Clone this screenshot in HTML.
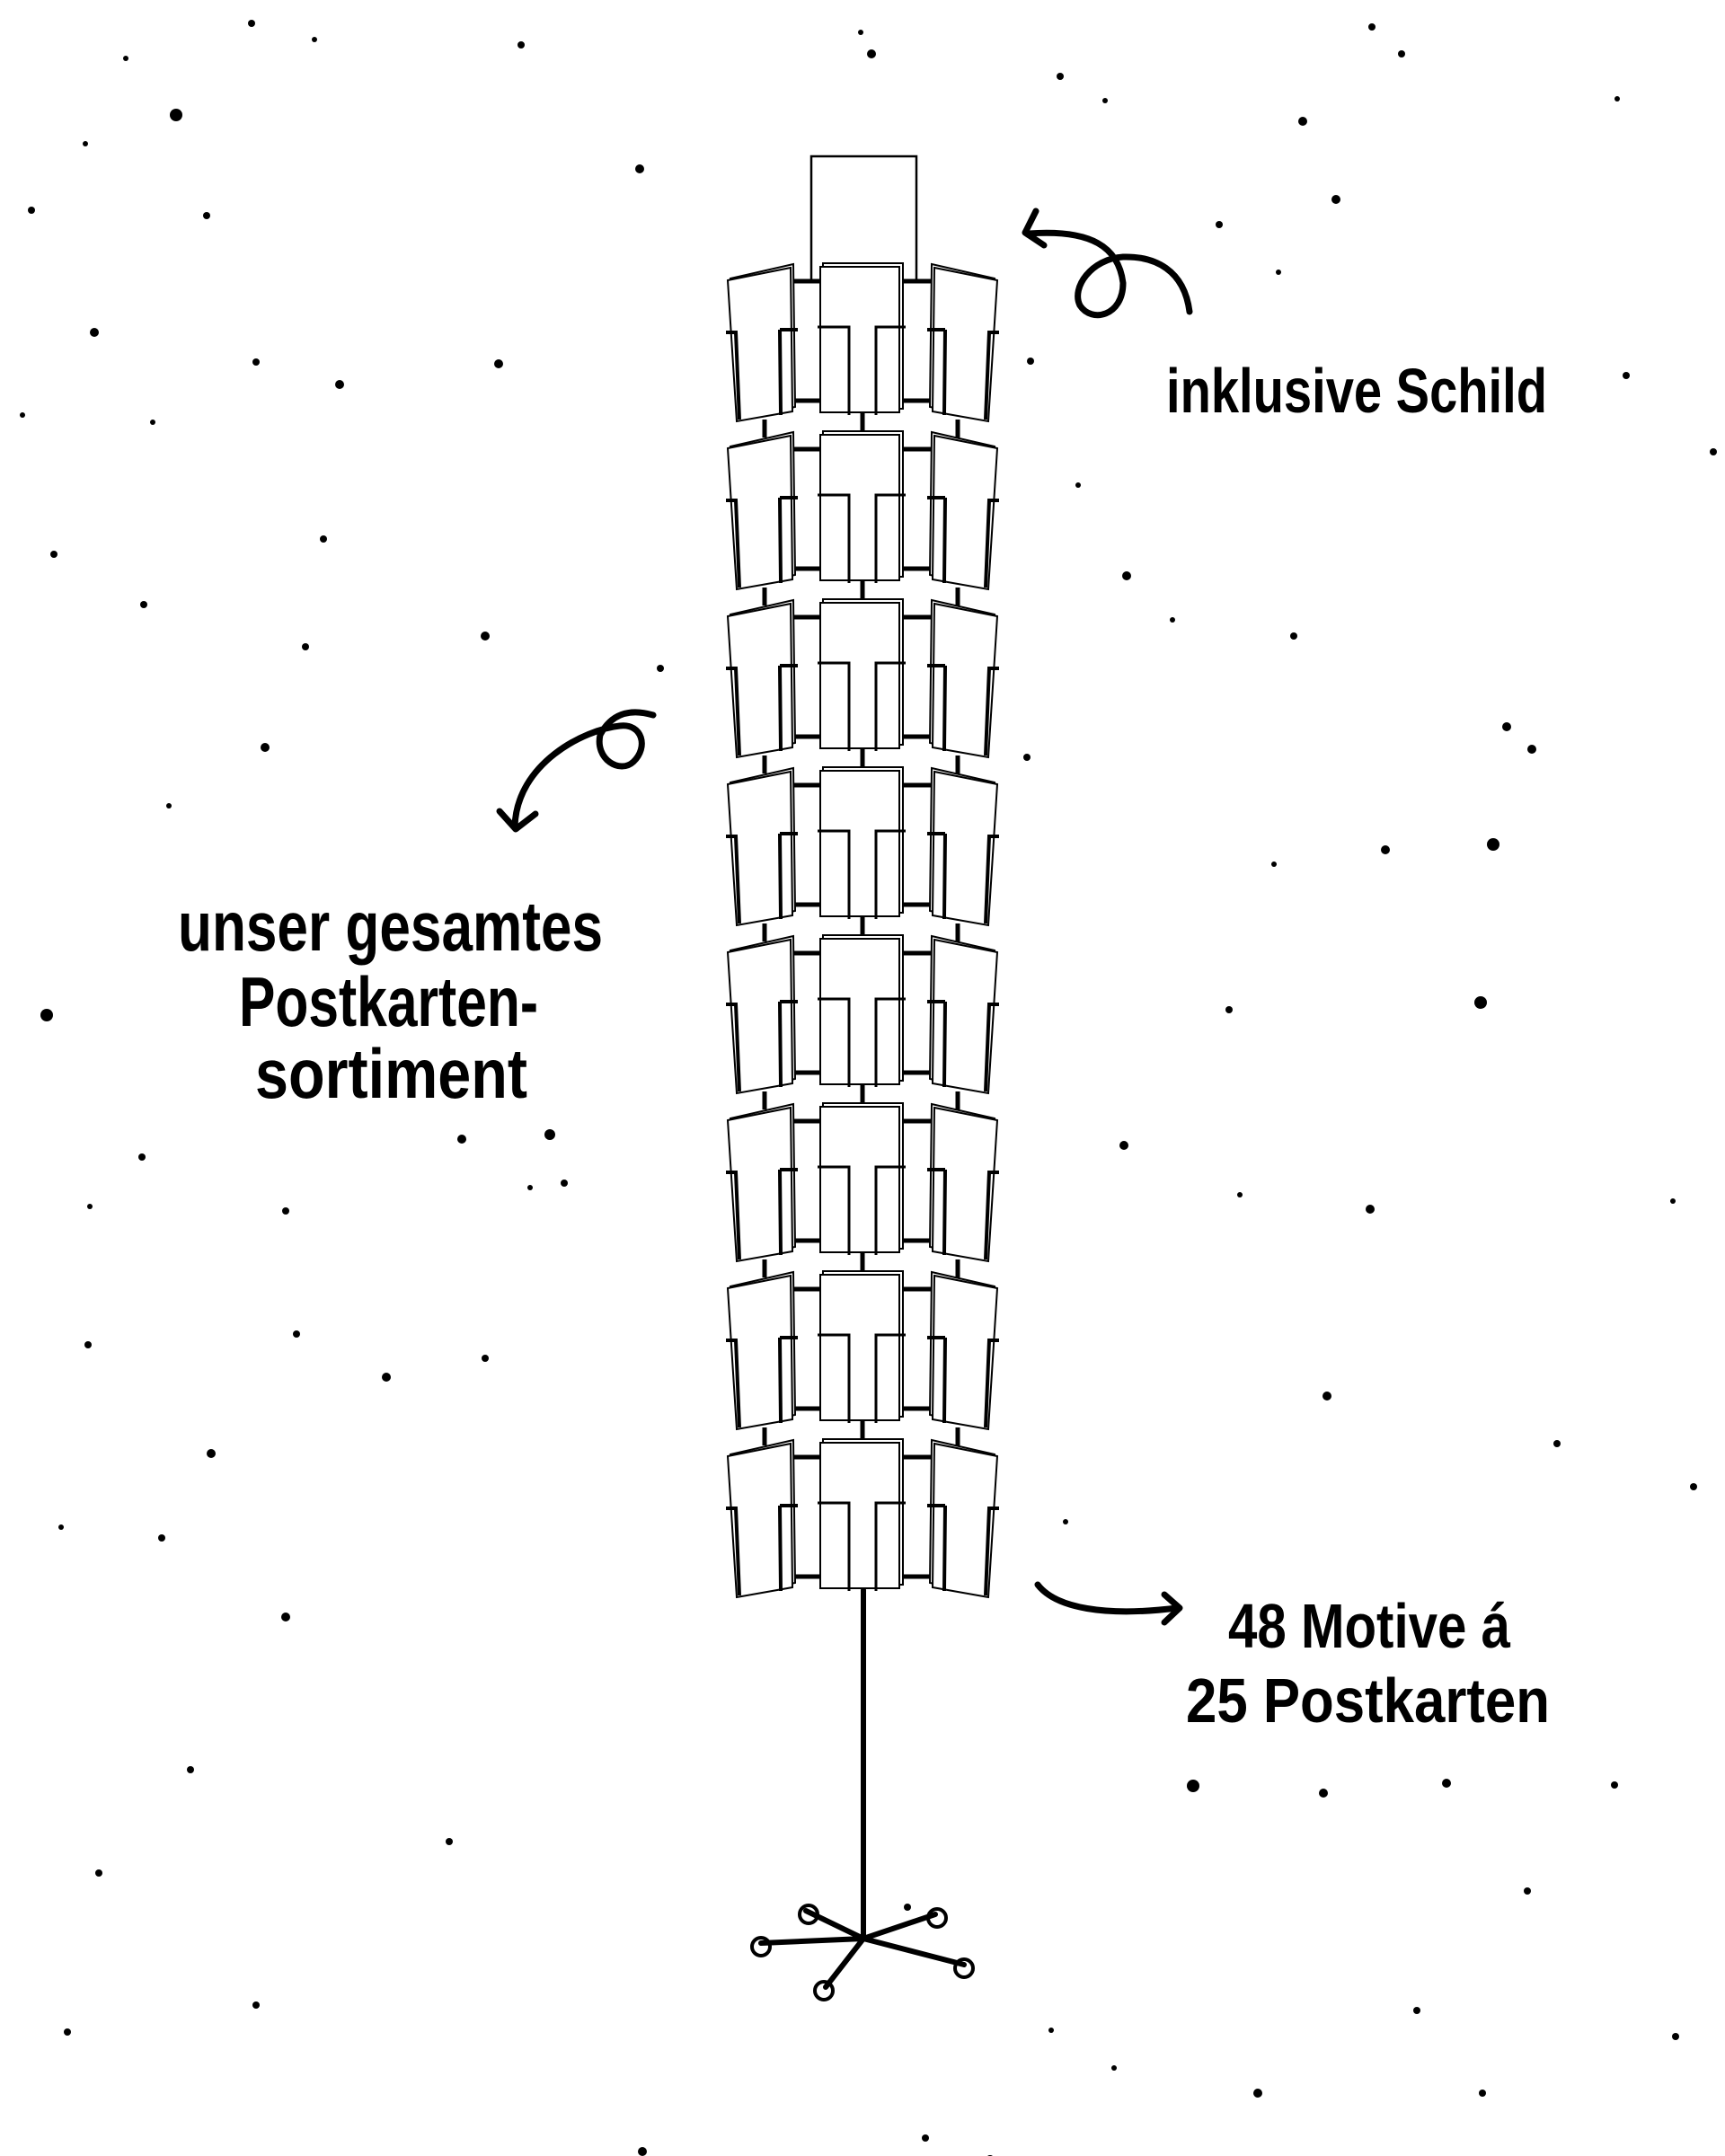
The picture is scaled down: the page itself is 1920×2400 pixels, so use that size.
<!DOCTYPE html>
<html><head><meta charset="utf-8"><style>
html,body{margin:0;padding:0;background:#fff;}
svg{display:block;}
text{font-family:"Liberation Sans",sans-serif;font-weight:bold;fill:#000;}
</style></head><body>
<svg width="1920" height="2400" viewBox="0 0 1920 2400" xmlns="http://www.w3.org/2000/svg">
<g fill="#000">
<circle cx="196" cy="128" r="7"/><circle cx="280" cy="26" r="4"/><circle cx="350" cy="44" r="3"/><circle cx="580" cy="50" r="4"/><circle cx="140" cy="65" r="3"/><circle cx="35" cy="234" r="4"/><circle cx="95" cy="160" r="3"/><circle cx="230" cy="240" r="4"/><circle cx="712" cy="188" r="5"/><circle cx="105" cy="370" r="5"/><circle cx="285" cy="403" r="4"/><circle cx="378" cy="428" r="5"/><circle cx="555" cy="405" r="5"/><circle cx="25" cy="462" r="3"/><circle cx="170" cy="470" r="3"/><circle cx="360" cy="600" r="4"/><circle cx="60" cy="617" r="4"/><circle cx="160" cy="673" r="4"/><circle cx="340" cy="720" r="4"/><circle cx="540" cy="708" r="5"/><circle cx="735" cy="744" r="4"/><circle cx="295" cy="832" r="5"/><circle cx="188" cy="897" r="3"/><circle cx="52" cy="1130" r="7"/><circle cx="158" cy="1288" r="4"/><circle cx="514" cy="1268" r="5"/><circle cx="612" cy="1263" r="6"/><circle cx="628" cy="1317" r="4"/><circle cx="590" cy="1322" r="3"/><circle cx="318" cy="1348" r="4"/><circle cx="100" cy="1343" r="3"/><circle cx="330" cy="1485" r="4"/><circle cx="98" cy="1497" r="4"/><circle cx="540" cy="1512" r="4"/><circle cx="430" cy="1533" r="5"/><circle cx="235" cy="1618" r="5"/><circle cx="318" cy="1800" r="5"/><circle cx="180" cy="1712" r="4"/><circle cx="68" cy="1700" r="3"/><circle cx="212" cy="1970" r="4"/><circle cx="110" cy="2085" r="4"/><circle cx="500" cy="2050" r="4"/><circle cx="75" cy="2262" r="4"/><circle cx="285" cy="2232" r="4"/><circle cx="715" cy="2395" r="5"/><circle cx="1030" cy="2380" r="4"/><circle cx="1102" cy="2404" r="5"/>
<circle cx="958" cy="36" r="3"/><circle cx="970" cy="60" r="5"/><circle cx="1180" cy="85" r="4"/><circle cx="1230" cy="112" r="3"/><circle cx="1450" cy="135" r="5"/><circle cx="1527" cy="30" r="4"/><circle cx="1560" cy="60" r="4"/><circle cx="1800" cy="110" r="3"/><circle cx="1487" cy="222" r="5"/><circle cx="1357" cy="250" r="4"/><circle cx="1423" cy="303" r="3"/><circle cx="1810" cy="418" r="4"/><circle cx="1907" cy="503" r="4"/><circle cx="1147" cy="402" r="4"/><circle cx="1200" cy="540" r="3"/><circle cx="1254" cy="641" r="5"/><circle cx="1305" cy="690" r="3"/><circle cx="1440" cy="708" r="4"/><circle cx="1677" cy="809" r="5"/><circle cx="1705" cy="834" r="5"/><circle cx="1143" cy="843" r="4"/><circle cx="1542" cy="946" r="5"/><circle cx="1662" cy="940" r="7"/><circle cx="1418" cy="962" r="3"/><circle cx="1648" cy="1116" r="7"/><circle cx="1368" cy="1124" r="4"/><circle cx="1251" cy="1275" r="5"/><circle cx="1525" cy="1346" r="5"/><circle cx="1380" cy="1330" r="3"/><circle cx="1862" cy="1337" r="3"/><circle cx="1477" cy="1554" r="5"/><circle cx="1733" cy="1607" r="4"/><circle cx="1885" cy="1655" r="4"/><circle cx="1186" cy="1694" r="3"/><circle cx="1328" cy="1988" r="7"/><circle cx="1473" cy="1996" r="5"/><circle cx="1610" cy="1985" r="5"/><circle cx="1797" cy="1987" r="4"/><circle cx="1700" cy="2105" r="4"/><circle cx="1577" cy="2238" r="4"/><circle cx="1865" cy="2267" r="4"/><circle cx="1650" cy="2330" r="4"/><circle cx="1400" cy="2330" r="5"/><circle cx="1170" cy="2260" r="3"/><circle cx="1240" cy="2302" r="3"/><circle cx="1010" cy="2123" r="4"/>
</g>
<defs>
<g id="tier" fill="#fff" stroke="#000">
<path d="M884 313 H1037 M884 446 H1037" stroke-width="5" fill="none"/>
<polygon points="813,310 883,294 885,453 823,467" stroke-width="2"/>
<polygon points="810,312 880,298 882,458 820,469" stroke-width="2"/>
<path d="M808 370 H819 L823 467 M868 367 H888 M868 367 L869 462" stroke-width="4" fill="none"/>
<rect x="916" y="293" width="89" height="162" stroke-width="2"/>
<rect x="913" y="297" width="88" height="162" stroke-width="2"/>
<path d="M910 364 H945 V462 M1008 364 H975 V462" stroke-width="3" fill="none"/>
<polygon points="1107,310 1037,294 1035,453 1097,467" stroke-width="2"/>
<polygon points="1110,312 1040,298 1038,458 1100,469" stroke-width="2"/>
<path d="M1112 370 H1101 L1097 467 M1052 367 H1032 M1052 367 L1051 462" stroke-width="4" fill="none"/>
</g>
<path id="conn" d="M851 467 V487 M960 460 V487 M1066 467 V487" stroke="#000" stroke-width="5" fill="none"/>
</defs>
<rect x="903" y="174" width="117" height="140" fill="#fff" stroke="#000" stroke-width="2.5"/>
<use href="#conn"/><use href="#conn" y="187"/><use href="#conn" y="374"/><use href="#conn" y="561"/><use href="#conn" y="748"/><use href="#conn" y="935"/><use href="#conn" y="1122"/>
<use href="#tier"/>
<use href="#tier" y="187"/>
<use href="#tier" y="374"/>
<use href="#tier" y="561"/>
<use href="#tier" y="748"/>
<use href="#tier" y="935"/>
<use href="#tier" y="1122"/>
<use href="#tier" y="1309"/>
<g stroke="#000" stroke-width="6" fill="none" stroke-linecap="round">
<path d="M961 1770 V2158"/>
<path d="M961 2158 L847 2163 M961 2158 L897 2127 M961 2158 L1041 2131 M961 2158 L1073 2187 M961 2158 L919 2212"/>
<circle cx="847" cy="2167" r="10" stroke-width="4"/>
<circle cx="900" cy="2131" r="10" stroke-width="4"/>
<circle cx="1043" cy="2135" r="10" stroke-width="4"/>
<circle cx="1073" cy="2191" r="10" stroke-width="4"/>
<circle cx="917" cy="2216" r="10" stroke-width="4"/>
</g>
<g stroke="#000" stroke-width="7" fill="none" stroke-linecap="round" stroke-linejoin="round">
<path d="M1324 347 C1318 300 1285 285 1250 286 C1215 288 1192 320 1202 340 C1215 360 1250 352 1250 315 C1245 275 1215 255 1145 260"/>
<path d="M1153 235 L1141 259 L1162 273"/>
<path d="M727 796 C700 788 680 795 668 818 C662 845 690 862 705 848 C722 832 715 805 690 808 C650 812 575 850 573 920"/>
<path d="M556 903 L574 923 L596 906"/>
<path d="M1155 1764 C1175 1790 1230 1800 1310 1790"/>
<path d="M1296 1775 L1313 1790 L1296 1806"/>
</g>
<text x="1298" y="459" font-size="70" textLength="424" lengthAdjust="spacingAndGlyphs">inklusive Schild</text>
<text x="198" y="1058" font-size="78" textLength="473" lengthAdjust="spacingAndGlyphs">unser gesamtes</text>
<text x="266" y="1142" font-size="78" textLength="333" lengthAdjust="spacingAndGlyphs">Postkarten-</text>
<text x="284" y="1222" font-size="78" textLength="303" lengthAdjust="spacingAndGlyphs">sortiment</text>
<text x="1367" y="1834" font-size="70" textLength="314" lengthAdjust="spacingAndGlyphs">48 Motive á</text>
<text x="1320" y="1917" font-size="70" textLength="405" lengthAdjust="spacingAndGlyphs">25 Postkarten</text>
</svg>
</body></html>
